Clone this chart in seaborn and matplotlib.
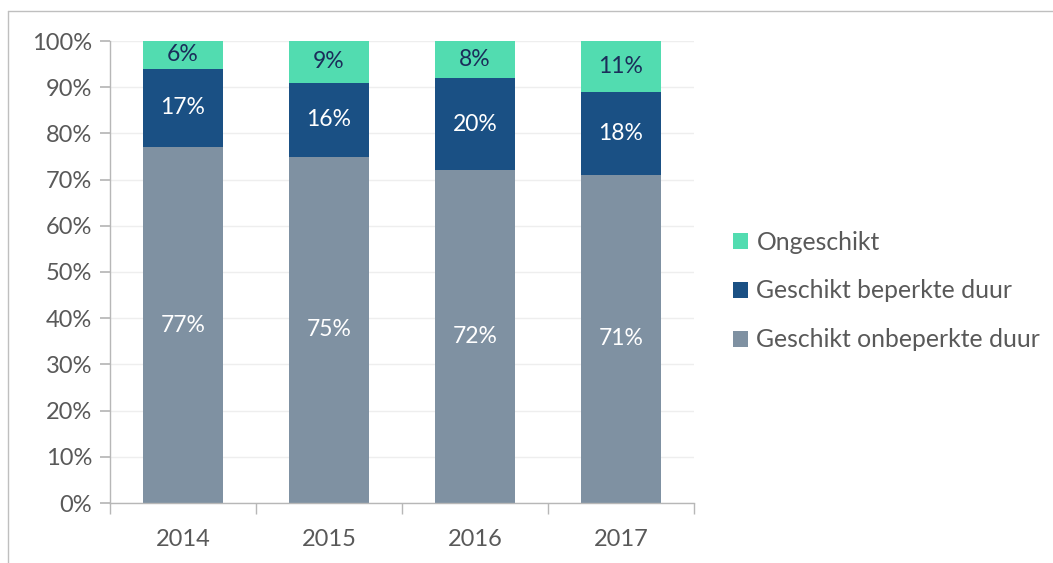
import matplotlib
matplotlib.use("Agg")
import matplotlib.pyplot as plt
from matplotlib.lines import Line2D
from matplotlib.patches import Patch
import seaborn as sns
import pandas as pd
import numpy as np

years = ["2014", "2015", "2016", "2017"]
onbeperkt = [77, 75, 72, 71]
beperkt = [17, 16, 20, 18]
ongeschikt = [6, 9, 8, 11]

series_names = ["Geschikt onbeperkte duur", "Geschikt beperkte duur", "Ongeschikt"]
colors = ["#7F91A2", "#1A5084", "#52DCB0"]
label_colors = ["white", "white", "#1B2D5A"]

sns.set_theme(style="white")
plt.rcParams["font.family"] = ["Lato", "DejaVu Sans"]

fig = plt.figure(figsize=(10.53, 5.63), dpi=100)
W, H = 1053, 563
ax = fig.add_axes([110 / W, 1 - 503 / H, (694 - 110) / W, (503 - 41) / H])

df = pd.DataFrame({"year": years, "a": onbeperkt, "b": beperkt, "c": ongeschikt})
layers = [df["a"], df["a"] + df["b"], df["a"] + df["b"] + df["c"]]

# stacked bars: draw cumulative totals from the top layer down
for i in [2, 1, 0]:
    sns.barplot(x=df["year"], y=layers[i], color=colors[i], width=0.55,
                saturation=1, ax=ax, edgecolor="none", linewidth=0)

vals = [onbeperkt, beperkt, ongeschikt]
for j in range(len(years)):
    base = 0
    for i in range(3):
        v = vals[i][j]
        ax.text(j, base + v / 2, f"{v}%", ha="center", va="center",
                fontsize=16.5, color=label_colors[i])
        base += v

ax.set_ylim(0, 100)
ax.set_xlim(-0.5, 3.5)
ax.set_yticks(np.arange(0, 101, 10))
ax.set_yticklabels([f"{t}%" for t in range(0, 101, 10)])
ax.set_xlabel("")
ax.set_ylabel("")
ax.yaxis.grid(True, color="#EEEEEE", linewidth=1)
ax.set_axisbelow(True)
for s in ["top", "right"]:
    ax.spines[s].set_visible(False)
for s in ["left", "bottom"]:
    ax.spines[s].set_color("#B7B7B7")
    ax.spines[s].set_linewidth(1)

ax.tick_params(axis="y", which="both", left=True, length=7, color="#B7B7B7",
               labelsize=17, labelcolor="#595959", pad=6)
ax.set_xticks([0, 1, 2, 3])
ax.set_xticklabels(years)
ax.tick_params(axis="x", which="major", bottom=False, labelsize=17,
               labelcolor="#595959", pad=13)
ax.set_xticks([-0.5, 0.5, 1.5, 2.5, 3.5], minor=True)
ax.tick_params(axis="x", which="minor", bottom=True, length=8, color="#B7B7B7")

handles = [Patch(facecolor=colors[i], edgecolor="none") for i in [2, 1, 0]]
fig.legend(handles, [series_names[i] for i in [2, 1, 0]],
           loc="center left", bbox_to_anchor=(733 / W, 1 - 291 / H),
           frameon=False, fontsize=17.8, labelcolor="#595959",
           handlelength=0.6, handleheight=0.6, handletextpad=0.35,
           labelspacing=1.05, borderaxespad=0, borderpad=0)

# outer frame: top and left edges
fig.add_artist(Line2D([8 / W, 1.0], [1 - 11 / H, 1 - 11 / H],
                      transform=fig.transFigure, color="#BFBFBF", linewidth=1))
fig.add_artist(Line2D([8 / W, 8 / W], [0, 1 - 11 / H],
                      transform=fig.transFigure, color="#BFBFBF", linewidth=1))

fig.savefig("out.png", dpi=100, facecolor="white")
